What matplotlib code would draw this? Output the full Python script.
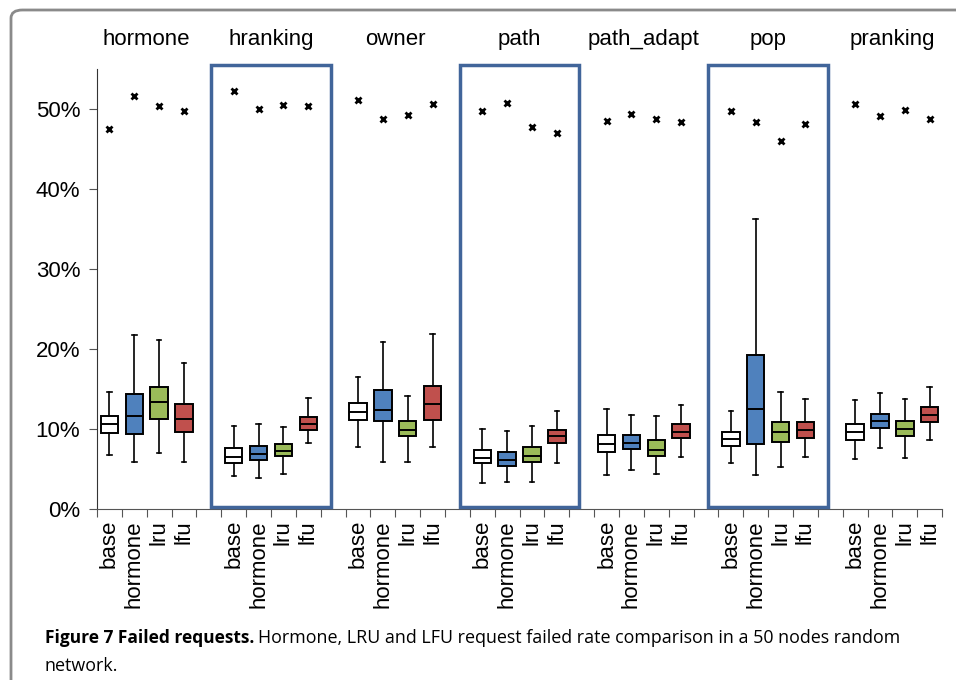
import matplotlib
matplotlib.use("Agg")
import matplotlib.pyplot as plt
from matplotlib.patches import Rectangle, FancyBboxPatch
from matplotlib.transforms import blended_transform_factory

# groups (panel titles) and the four series inside each group
groups = ["hormone", "hranking", "owner", "path", "path_adapt", "pop", "pranking"]
series = ["base", "hormone", "lru", "lfu"]
colors = ["white", "#4f81bd", "#9bbb59", "#c0504d"]
highlighted = ["hranking", "path", "pop"]

# box stats in % : [whisker low, q1, median, q3, whisker high], one row per series
stats = {
    "hormone":    [[6.8, 9.5, 10.6, 11.6, 14.6], [5.9, 9.4, 11.6, 14.4, 21.7],
                   [7.0, 11.3, 13.4, 15.2, 21.1], [5.9, 9.6, 11.3, 13.1, 18.3]],
    "hranking":   [[4.1, 5.7, 6.5, 7.6, 10.4], [3.9, 6.1, 6.9, 7.9, 10.6],
                   [4.4, 6.6, 7.2, 8.1, 10.3], [8.3, 9.9, 10.6, 11.5, 13.9]],
    "owner":      [[7.7, 11.1, 12.1, 13.2, 16.5], [5.9, 11.0, 12.4, 14.9, 20.9],
                   [5.9, 9.1, 9.9, 11.0, 14.1], [7.7, 11.1, 13.1, 15.4, 21.9]],
    "path":       [[3.3, 5.7, 6.4, 7.4, 10.0], [3.4, 5.4, 6.1, 7.1, 9.8],
                   [3.4, 5.9, 6.6, 7.7, 10.4], [5.8, 8.2, 9.1, 9.9, 12.3]],
    "path_adapt": [[4.2, 7.1, 8.1, 9.3, 12.5], [4.9, 7.5, 8.2, 9.2, 11.7],
                   [4.4, 6.6, 7.4, 8.6, 11.6], [6.5, 8.9, 9.6, 10.6, 13.0]],
    "pop":        [[5.7, 7.9, 8.7, 9.6, 12.2], [4.2, 8.1, 12.5, 19.3, 36.2],
                   [5.2, 8.4, 9.6, 10.9, 14.6], [6.5, 8.9, 9.9, 10.9, 13.8]],
    "pranking":   [[6.3, 8.6, 9.6, 10.6, 13.6], [7.6, 10.1, 11.0, 11.9, 14.5],
                   [6.4, 9.1, 10.0, 11.0, 13.8], [8.6, 10.9, 11.7, 12.7, 15.2]],
}

# maximum values (x markers) in %
maxima = {
    "hormone":    [47.5, 51.6, 50.4, 49.8],
    "hranking":   [52.2, 50.0, 50.5, 50.4],
    "owner":      [51.1, 48.8, 49.3, 50.6],
    "path":       [49.8, 50.8, 47.8, 47.0],
    "path_adapt": [48.5, 49.4, 48.7, 48.4],
    "pop":        [49.8, 48.4, 46.0, 48.1],
    "pranking":   [50.6, 49.1, 49.9, 48.7],
}

plt.rcParams["font.family"] = ["Liberation Sans", "DejaVu Sans"]

fig = plt.figure(figsize=(9.56, 6.8), dpi=100)
ax = fig.add_axes([0.1015, 0.2515, 0.884, 0.647])

n_slots = len(groups) * 5 - 1
label_pos, label_txt = [], []
for g, name in enumerate(groups):
    for s, ser in enumerate(series):
        pos = g * 5 + s + 0.5
        lo, q1, med, q3, hi = stats[name][s]
        ax.bxp([{"whislo": lo, "q1": q1, "med": med, "q3": q3, "whishi": hi, "fliers": []}],
               positions=[pos], widths=0.7, patch_artist=True, showfliers=False,
               capwidths=0.18, manage_ticks=False,
               boxprops=dict(facecolor=colors[s], edgecolor="black", linewidth=1.4),
               medianprops=dict(color="black", linewidth=1.4),
               whiskerprops=dict(color="black", linewidth=1.2),
               capprops=dict(color="black", linewidth=1.2))
        ax.plot(pos, maxima[name][s], marker="x", color="black", markersize=5,
                markeredgewidth=2, linestyle="none")
        label_pos.append(pos)
        label_txt.append(ser)

    if name in highlighted:
        ax.add_patch(Rectangle((g * 5 - 0.4, 0.25), 4.8, 55.2, fill=False,
                               edgecolor="#41659a", linewidth=2.5, clip_on=False, zorder=5))

trans = blended_transform_factory(ax.transData, ax.transAxes)
for g, name in enumerate(groups):
    ax.text(g * 5 + 2, 1.066, name, transform=trans, ha="center", va="center", fontsize=16)

ax.set_xlim(0, n_slots)
ax.set_ylim(0, 55)
ax.set_yticks([0, 10, 20, 30, 40, 50])
ax.set_yticklabels([f"{v}%" for v in [0, 10, 20, 30, 40, 50]], fontsize=16)
ax.set_xticks(range(n_slots + 1))
ax.set_xticklabels([])
ax.set_xticks(label_pos, minor=True)
ax.set_xticklabels(label_txt, minor=True, rotation=90, fontsize=16)
ax.tick_params(axis="x", which="minor", length=0, pad=8)
ax.tick_params(axis="x", which="major", length=6, color="#555555", direction="out")
ax.tick_params(axis="y", length=6, color="#555555", pad=6)
for side in ["top", "right"]:
    ax.spines[side].set_visible(False)
ax.spines["left"].set_color("#333333")
ax.spines["bottom"].set_color("#555555")

# rounded frame around the whole figure (right and bottom sides fall outside)
frame_x0 = 11 / 956
frame_top = 1 - 10 / 680
fig.patches.append(FancyBboxPatch((frame_x0, -0.05), 1.05 - frame_x0, frame_top + 0.05,
                                  boxstyle="round,pad=0,rounding_size=0.012",
                                  transform=fig.transFigure, fill=False,
                                  edgecolor="#8a8a8a", linewidth=2))

# caption
cap_font = ["Open Sans", "DejaVu Sans"]
t1 = fig.text(45 / 956, 1 - 638 / 680, "Figure 7 Failed requests.", fontsize=12.5,
              fontweight="bold", family=cap_font, va="center", ha="left")
fig.canvas.draw()
bb = t1.get_window_extent()
x_end = fig.transFigure.inverted().transform((bb.x1, bb.y0))[0]
fig.text(x_end + 4 / 956, 1 - 638 / 680,
         "Hormone, LRU and LFU request failed rate comparison in a 50 nodes random",
         fontsize=12.9, family=cap_font, va="center", ha="left")
fig.text(45 / 956, 1 - 666 / 680, "network.", fontsize=12.9, family=cap_font,
         va="center", ha="left")

fig.savefig("out.png", dpi=100)
